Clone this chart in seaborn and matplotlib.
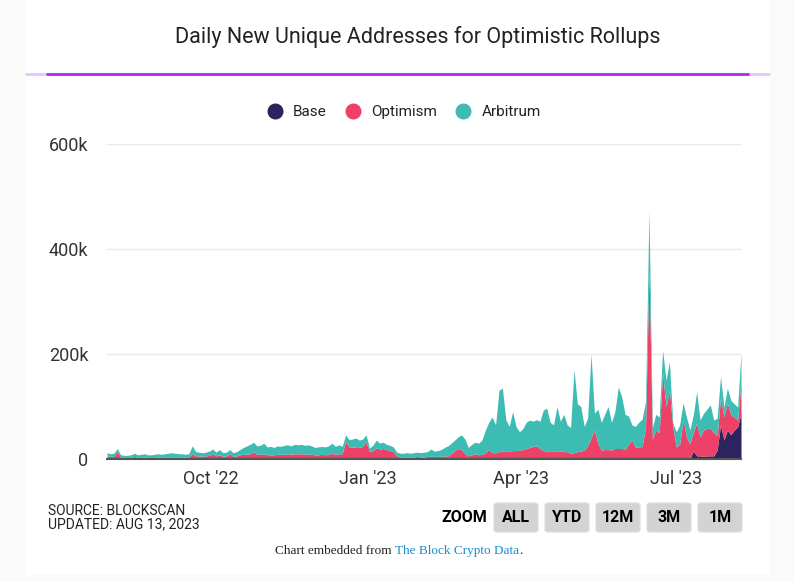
import pandas as pd
import numpy as np
import matplotlib
matplotlib.use("Agg")
import matplotlib.pyplot as plt
from matplotlib.lines import Line2D
from matplotlib.patches import FancyBboxPatch, Rectangle
import seaborn as sns

# ==========================
# Data (thousands of new addresses, sampled every 2 days)
# ==========================
START_DATE = "2022-08-01"

optimism = [6, 5, 5, 14, 4, 3, 3, 3, 5, 3,
            3, 4, 3, 3, 3, 4, 3, 4, 4, 4,
            4, 4, 4, 4, 4, 10, 6, 6, 5, 6,
            7, 10, 6, 8, 5, 6, 10, 5, 6, 8,
            9, 9, 10, 14, 9, 9, 10, 8, 8, 8,
            9, 9, 9, 10, 9, 10, 10, 10, 9, 10,
            9, 8, 8, 9, 8, 9, 11, 9, 10, 10,
            34, 23, 23, 22, 22, 24, 33, 14, 16, 21,
            19, 20, 18, 16, 14, 6, 4, 4, 4, 4,
            4, 5, 4, 4, 5, 5, 5, 5, 5, 6,
            6, 10, 16, 20, 18, 10, 6, 8, 10, 8,
            9, 12, 18, 12, 12, 14, 15, 14, 15, 16,
            16, 17, 18, 20, 22, 24, 25, 20, 16, 15,
            14, 15, 14, 15, 14, 14, 11, 12, 14, 15,
            17, 25, 40, 55, 30, 17, 18, 18, 17, 20,
            20, 20, 19, 28, 36, 23, 22, 25, 60, 360,
            38, 55, 50, 164, 100, 131, 61, 23, 28, 74,
            42, 29, 36, 62, 36, 50, 52, 53, 44, 28,
            51, 44, 52, 38, 25, 13, 58]

arbitrum = [6, 5, 6, 6, 4, 4, 4, 5, 6, 5,
            6, 6, 5, 5, 6, 6, 6, 6, 7, 8,
            7, 6, 6, 5, 6, 15, 8, 7, 7, 7,
            8, 9, 7, 10, 7, 7, 8, 7, 8, 10,
            13, 16, 18, 18, 16, 17, 20, 15, 16, 14,
            16, 15, 17, 17, 16, 18, 17, 18, 17, 17,
            16, 14, 15, 15, 15, 16, 19, 15, 17, 14,
            12, 14, 15, 18, 14, 14, 13, 7, 10, 15,
            11, 12, 10, 10, 9, 7, 7, 7, 8, 7,
            8, 8, 8, 9, 9, 14, 10, 11, 13, 16,
            19, 20, 20, 22, 28, 28, 16, 20, 22, 22,
            27, 43, 52, 68, 53, 117, 120, 61, 47, 74,
            46, 35, 40, 50, 52, 48, 50, 52, 77, 82,
            56, 50, 86, 57, 71, 51, 49, 158, 91, 85,
            45, 53, 160, 32, 65, 53, 67, 82, 53, 70,
            117, 98, 66, 54, 29, 39, 48, 51, 50, 112,
            22, 30, 30, 43, 50, 54, 7, 29, 37, 33,
            38, 26, 33, 60, 32, 32, 37, 44, 24, 33,
            41, 19, 28, 28, 25, 25, 57]

# Base launched mid-July 2023
base = [0] * 172 + [15, 6, 6, 5, 6, 6, 6, 17, 65, 36, 55, 46, 55, 61, 87]

series_names = ["Base", "Optimism", "Arbitrum"]
series_colors = ["#2b245e", "#ee4168", "#3cbcb2"]

x_tick_dates = ["2022-10-01", "2023-01-01", "2023-04-01", "2023-07-01"]
x_tick_labels = ["Oct '22", "Jan '23", "Apr '23", "Jul '23"]
y_ticks = [0, 200, 400, 600]
y_tick_labels = ["0", "200k", "400k", "600k"]

zoom_buttons = ["ALL", "YTD", "12M", "3M", "1M"]

# ==========================
# Figure
# ==========================
sns.set_theme(style="white")
plt.rcParams["font.family"] = ["Roboto", "DejaVu Sans"]

W, H = 795, 582
fig = plt.figure(figsize=(W / 100, H / 100), dpi=100)
fig.patch.set_facecolor("#fafafa")

def fx(px):
    return px / W

def fy(py):
    return 1 - py / H

# white card behind everything
fig.patches.append(Rectangle((fx(26), fy(575)), fx(769) - fx(26), fy(0) - fy(575),
                             transform=fig.transFigure, facecolor="white", edgecolor="none",
                             zorder=-10))

df = pd.DataFrame({
    "date": pd.date_range(START_DATE, periods=len(optimism), freq="2D"),
    "Base": base,
    "Optimism": optimism,
    "Arbitrum": arbitrum,
})

ax = fig.add_axes([fx(107), fy(459), fx(741) - fx(107), fy(144) - fy(459)])
ax.set_zorder(5)
ax.set_facecolor("white")
colors = sns.color_palette(series_colors)
ax.stackplot(df["date"], df["Base"], df["Optimism"], df["Arbitrum"],
             colors=colors, linewidth=0, zorder=2)

ax.set_xlim(df["date"].iloc[0], df["date"].iloc[-1])
ax.set_ylim(0, 600)
ax.set_yticks(y_ticks)
ax.set_yticklabels(y_tick_labels)
ax.set_xticks(pd.to_datetime(x_tick_dates))
ax.set_xticklabels(x_tick_labels)
ax.yaxis.grid(True, color="#e9e9e9", linewidth=1, zorder=0)
ax.xaxis.grid(False)
ax.set_axisbelow(True)
for s in ["top", "right", "left"]:
    ax.spines[s].set_visible(False)
ax.spines["bottom"].set_color("#555555")
ax.spines["bottom"].set_linewidth(1.5)
ax.spines["bottom"].set_zorder(3)
ax.tick_params(axis="both", length=0, labelsize=13, colors="#333333")
ax.tick_params(axis="y", pad=13.5)
ax.tick_params(axis="x", pad=8)

# title and separator
fig.text(fx(418), fy(37), "Daily New Unique Addresses for Optimistic Rollups",
         ha="center", va="center", fontsize=15.5, color="#222222")
fig.add_artist(Line2D([fx(26), fx(769)], [fy(73.5), fy(73.5)], transform=fig.transFigure,
                      color="#e4c8f7", linewidth=2))
fig.add_artist(Line2D([fx(47), fx(748)], [fy(73.5), fy(73.5)], transform=fig.transFigure,
                      color="#b22df0", linewidth=2))

# legend
handles = [Line2D([], [], marker="o", linestyle="none", markersize=10.5,
                  markerfacecolor=c, markeredgecolor=c) for c in colors]
fig.legend(handles, series_names, loc="center", bbox_to_anchor=(fx(400), fy(112)),
           ncol=3, frameon=False, fontsize=11, handletextpad=0.2, columnspacing=0.7,
           labelcolor="#222222")

# source text
fig.text(fx(48), fy(511), "SOURCE: BLOCKSCAN", ha="left", va="center",
         fontsize=10, color="#222222")
fig.text(fx(48), fy(524), "UPDATED: AUG 13, 2023", ha="left", va="center",
         fontsize=10, color="#222222")

# zoom buttons
fig.text(fx(487), fy(517), "ZOOM", ha="right", va="center", fontsize=11.5,
         fontweight="bold", color="black")
for i, lab in enumerate(zoom_buttons):
    x0 = 494 + i * 51
    fig.patches.append(FancyBboxPatch((fx(x0), fy(532)), fx(44), fy(503) - fy(532),
                                      boxstyle="round,pad=0,rounding_size=0.004",
                                      transform=fig.transFigure, facecolor="#d3d3d3",
                                      edgecolor="#dcdcdc", linewidth=0.8, zorder=1))
    fig.text(fx(x0 + 22), fy(517.5), lab, ha="center", va="center", fontsize=11.5,
             fontweight="bold", color="black")

# embed footer
serif = ["Liberation Serif", "DejaVu Serif"]
t1 = fig.text(fx(275), fy(551), "Chart embedded from ", ha="left", va="center",
              fontsize=9.5, family=serif, color="#222222")
fig.canvas.draw()
r = fig.canvas.get_renderer()
bb = t1.get_window_extent(r)
t2 = fig.text(bb.x1 / fig.bbox.width, fy(551), "The Block Crypto Data", ha="left", va="center",
              fontsize=9.5, family=serif, color="#1a8fc7")
bb2 = t2.get_window_extent(r)
fig.text(bb2.x1 / fig.bbox.width, fy(551), ".", ha="left", va="center",
         fontsize=9.5, family=serif, color="#222222")

fig.savefig("out.png", dpi=100, facecolor=fig.get_facecolor())
